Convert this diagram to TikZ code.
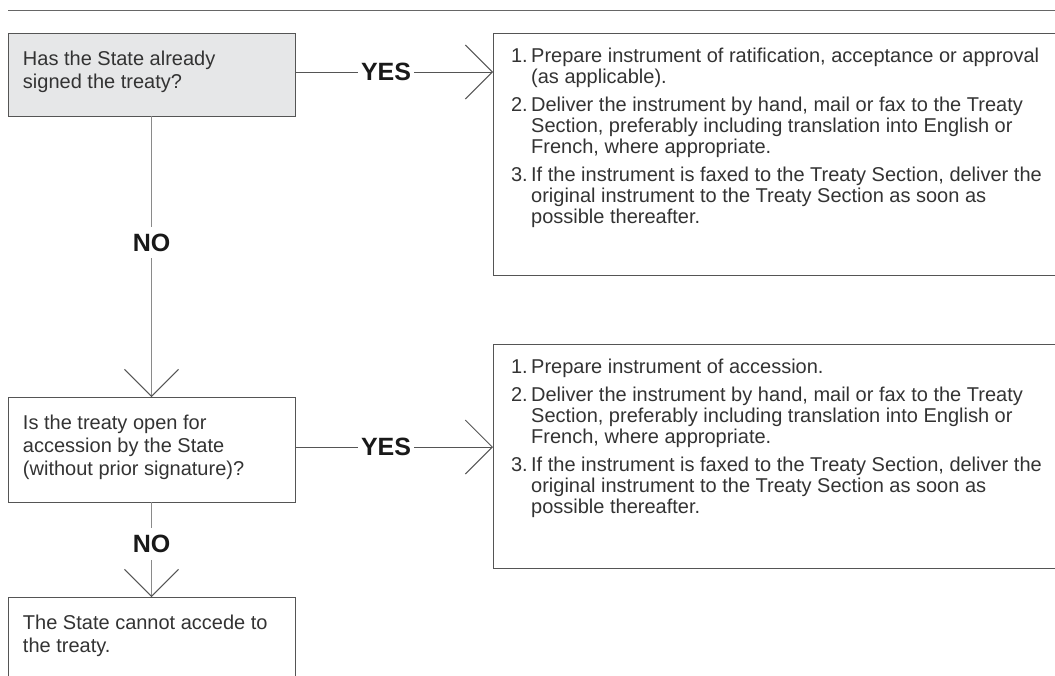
\documentclass[tikz,border=0pt]{standalone}
\usepackage{fontspec}
\setmainfont{Liberation Sans}
\usetikzlibrary{arrows.meta, positioning}
\definecolor{inkgray}{HTML}{333333}
\definecolor{framegray}{HTML}{555555}
\definecolor{linkgray}{HTML}{8A8A8A}
\definecolor{shadegray}{HTML}{E6E7E8}
\newcommand{\qtext}[2]{\parbox[t][#1][t]{257pt}{\raggedright\vskip 16pt\strut #2}}
\newcommand{\steplist}[2]{\parbox[t][#1][t]{560pt}{\vskip 15pt\begin{tabular}[t]{@{}l@{\hspace{3.5pt}}l@{}}#2\end{tabular}}}

\begin{document}
\begin{tikzpicture}[
  x=1pt, y=1pt,
  question/.style={rectangle, draw=framegray, line width=1pt, anchor=north west,
    inner xsep=15pt, inner ysep=0pt, outer sep=0pt, text=inkgray,
    font=\fontsize{20}{23}\selectfont},
  todo/.style={rectangle, draw=framegray, line width=1pt, anchor=north west,
    inner xsep=18pt, inner ysep=0pt, outer sep=0pt, text=inkgray,
    font=\fontsize{20}{21}\selectfont},
  answer/.style={fill=white, inner xsep=3pt, inner ysep=7pt, text=black!90,
    font=\fontsize{25}{25}\selectfont\bfseries},
  yesline/.style={draw=framegray, line width=1pt, -{Straight Barb[length=27pt, width=54pt]}},
  noline/.style={draw=linkgray, line width=1pt, -{Straight Barb[length=27pt, width=54pt, color=framegray]}}
]
\useasboundingbox (0,0) rectangle (1055,-675);
\clip (0,0) rectangle (1055,-675);

% rule across the top
\draw[framegray!90, line width=1pt] (8,-10) -- (1055,-10);

% questions
\node (sign) [question, fill=shadegray] at (8,-33)
  {\qtext{83pt}{Has the State already\\signed the treaty?}};
\node (open) [question, below=281pt of sign.south west, anchor=north west]
  {\qtext{105pt}{Is the treaty open for\\accession by the State\\(without prior signature)?}};
\node (nope) [question, below=95pt of open.south west, anchor=north west]
  {\qtext{120pt}{The State cannot accede to\\the treaty.}};

% what to do
\node (ratify) [todo, right=198pt of sign.north east, anchor=north west]
  {\steplist{242pt}{%
    1. & Prepare instrument of ratification, acceptance or approval\\
       & (as applicable).\\[7pt]
    2. & Deliver the instrument by hand, mail or fax to the Treaty\\
       & Section, preferably including translation into English or\\
       & French, where appropriate.\\[7pt]
    3. & If the instrument is faxed to the Treaty Section, deliver the\\
       & original instrument to the Treaty Section as soon as\\
       & possible thereafter.}};
\node (accede) [todo, below=69pt of ratify.south west, anchor=north west]
  {\steplist{224pt}{%
    1. & Prepare instrument of accession.\\[7pt]
    2. & Deliver the instrument by hand, mail or fax to the Treaty\\
       & Section, preferably including translation into English or\\
       & French, where appropriate.\\[7pt]
    3. & If the instrument is faxed to the Treaty Section, deliver the\\
       & original instrument to the Treaty Section as soon as\\
       & possible thereafter.}};

% answers
\draw[yesline] ([yshift=2.5pt]sign.east) -- node[answer, pos=0.46] {YES} ([yshift=2.5pt]sign.east -| ratify.west);
\draw[yesline] ([yshift=2.5pt]open.east) -- node[answer, pos=0.46] {YES} ([yshift=2.5pt]open.east -| accede.west);
\draw[noline] (sign.south) -- node[answer, pos=0.45] {NO} (open.north);
\draw[noline] (open.south) -- node[answer, pos=0.44] {NO} (nope.north);

\end{tikzpicture}
\end{document}
